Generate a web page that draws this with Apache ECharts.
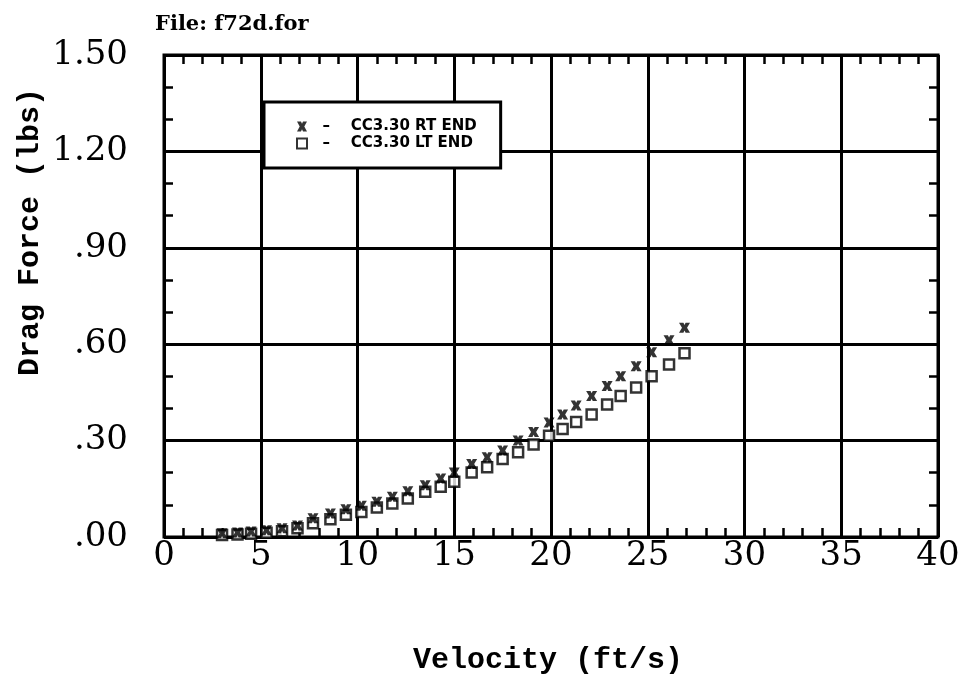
<!DOCTYPE html>
<html>
<head>
<meta charset="utf-8">
<script src="https://cdn.jsdelivr.net/npm/echarts@6/dist/echarts.min.js"></script>
<style>
  html, body { margin: 0; padding: 0; background: #fff; }
  #chart { width: 967px; height: 679px; }
</style>
</head>
<body>
<div id="chart"></div>
<script>
// velocity (ft/s), same points for both ends
var velocity = [3.0, 3.8, 4.5, 5.3, 6.1, 6.9, 7.7, 8.6, 9.4, 10.2, 11.0, 11.8, 12.6, 13.5, 14.3,
  15.0, 15.9, 16.7, 17.5, 18.3, 19.1, 19.9, 20.6, 21.3, 22.1, 22.9, 23.6, 24.4, 25.2, 26.1, 26.9];
// drag force (lbs)
var rtEnd = [0.012, 0.014, 0.017, 0.021, 0.027, 0.036, 0.058, 0.073, 0.086, 0.097, 0.110, 0.125, 0.142, 0.161, 0.182,
  0.201, 0.227, 0.248, 0.269, 0.300, 0.327, 0.356, 0.381, 0.409, 0.439, 0.470, 0.500, 0.531, 0.575, 0.612, 0.651];
var ltEnd = [0.006, 0.008, 0.010, 0.013, 0.018, 0.027, 0.043, 0.055, 0.069, 0.078, 0.092, 0.104, 0.120, 0.141, 0.156,
  0.172, 0.201, 0.217, 0.243, 0.264, 0.288, 0.315, 0.336, 0.358, 0.381, 0.412, 0.439, 0.465, 0.500, 0.537, 0.572];

var seriesNames = ['CC3.30 RT END', 'CC3.30 LT END'];
var xTicks = [0, 40, 5];      // min, max, interval
var yTicks = [0, 1.5, 0.3];

function pairs(xs, ys) {
  var out = [];
  for (var i = 0; i < xs.length; i++) out.push([xs[i], ys[i]]);
  return out;
}

// bold "x" marker
var crossIcon = 'path://M0,0 L4,0 L5,2.2 L6,0 L10,0 L7.3,5 L10,10 L6,10 L5,7.8 L4,10 L0,10 L2.7,5 Z';

var gridL = 164, gridR = 29, gridT = 55, gridB = 142;
var plotW = 967 - gridL - gridR;
var plotH = 679 - gridT - gridB;

var chart = echarts.init(document.getElementById('chart'));

var tickLine = { color: '#000', width: 2.5 };
var blackLine = { color: '#000', width: 3 };

function xAx(extra) {
  return Object.assign({
    type: 'value', min: xTicks[0], max: xTicks[1], interval: xTicks[2],
    axisLine: { show: false, onZero: false },
    axisTick: { show: false },
    axisLabel: { show: false },
    splitLine: { show: false }
  }, extra);
}
function yAx(extra) {
  return Object.assign({
    type: 'value', min: yTicks[0], max: yTicks[1], interval: yTicks[2],
    axisLine: { show: false, onZero: false },
    axisTick: { show: false },
    axisLabel: { show: false },
    splitLine: { show: false }
  }, extra);
}
// tick-only axes sit on the opposite edge (negative offset) so outward ticks point into the plot
function xTickAx(pos, grid) {
  return xAx({
    gridIndex: grid, position: pos, offset: -plotH,
    axisTick: { show: true, length: 9, lineStyle: tickLine },
    minorTick: { show: true, splitNumber: 5, length: 9, lineStyle: tickLine }
  });
}
function yTickAx(pos, grid) {
  return yAx({
    gridIndex: grid, position: pos, offset: -plotW,
    axisTick: { show: true, length: 9, lineStyle: tickLine },
    minorTick: { show: true, splitNumber: 3, length: 9, lineStyle: tickLine }
  });
}

var option = {
  backgroundColor: '#fff',
  animation: false,
  title: {
    text: 'File: f72d.for',
    left: 150, top: 9,
    textStyle: { fontFamily: 'DejaVu Serif', fontWeight: 'bold', fontSize: 21, color: '#000' }
  },
  grid: [
    { left: gridL, right: gridR, top: gridT, bottom: gridB, show: true, backgroundColor: 'transparent',
      borderColor: '#000', borderWidth: 3 },
    { left: gridL, right: gridR, top: gridT, bottom: gridB }
  ],
  legend: {
    data: seriesNames,
    orient: 'vertical',
    left: 264, top: 102,
    padding: [17, 24, 17, 32],
    itemGap: 2,
    itemWidth: 10, itemHeight: 10,
    backgroundColor: '#fff',
    borderColor: '#000', borderWidth: 3,
    formatter: function (name) { return '  \u2013    ' + name; },
    textStyle: { fontFamily: 'DejaVu Sans', fontWeight: 'bold', fontSize: 15, lineHeight: 12, color: '#000' }
  },
  xAxis: [
    xAx({
      gridIndex: 0, position: 'bottom',
      splitLine: { show: true, lineStyle: blackLine },
      axisLabel: { show: true, margin: 2, fontFamily: 'DejaVu Serif', fontSize: 34, color: '#000' }
    }),
    xTickAx('top', 0),      // ticks up from the bottom edge
    xTickAx('bottom', 1)    // ticks down from the top edge
  ],
  yAxis: [
    yAx({
      gridIndex: 0, position: 'left',
      splitLine: { show: true, lineStyle: blackLine },
      axisLabel: {
        show: true, margin: 36, fontFamily: 'DejaVu Serif', fontSize: 34, color: '#000',
        formatter: function (v) { return v.toFixed(2).replace(/^0/, ''); }
      }
    }),
    yTickAx('right', 0),    // ticks right from the left edge
    yTickAx('left', 1)      // ticks left from the right edge
  ],
  graphic: [
    {
      type: 'text', x: 30, y: 232, rotation: Math.PI / 2,
      style: { text: 'Drag Force (lbs)', fontFamily: 'Liberation Mono', fontWeight: 'bold', fontSize: 30,
        fill: '#000', align: 'center', verticalAlign: 'middle' }
    },
    {
      type: 'text', x: 548, y: 660,
      style: { text: 'Velocity (ft/s)', fontFamily: 'Liberation Mono', fontWeight: 'bold', fontSize: 30,
        fill: '#000', align: 'center', verticalAlign: 'middle' }
    }
  ],
  series: [
    {
      name: seriesNames[1], type: 'scatter', xAxisIndex: 0, yAxisIndex: 0,
      data: pairs(velocity, ltEnd),
      symbol: 'rect', symbolSize: 10,
      itemStyle: { color: '#fff', borderColor: '#000', borderWidth: 2.5 },
      z: 3
    },
    {
      name: seriesNames[0], type: 'scatter', xAxisIndex: 0, yAxisIndex: 0,
      data: pairs(velocity, rtEnd),
      symbol: crossIcon, symbolSize: [11, 10],
      itemStyle: { color: '#000' },
      z: 4
    }
  ]
};

chart.setOption(option);
</script>
</body>
</html>
